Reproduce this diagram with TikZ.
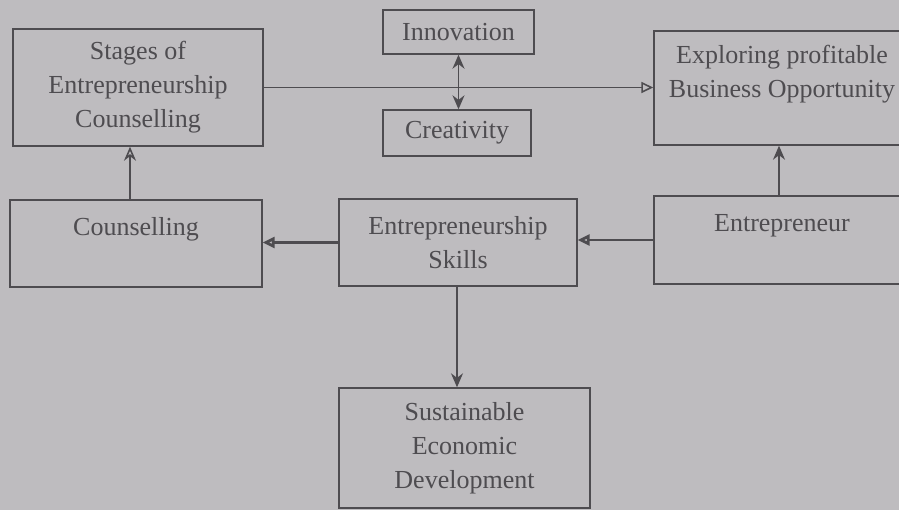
\documentclass[tikz,border=0pt]{standalone}
\usepackage{fontspec}
\setmainfont{Liberation Serif}
\usetikzlibrary{arrows.meta}

\definecolor{paper}{RGB}{190,188,191}
\definecolor{ink}{RGB}{78,76,80}

\tikzset{
    box/.style={draw=ink, text=ink, line width=0.7pt, rectangle, align=center, inner sep=0pt,
        font=\fontsize{13}{17}\selectfont},
    link/.style={draw=ink, line width=0.8pt},
    openhead/.style={-{Triangle[open, length=6pt, width=5.5pt]}},
    fullhead/.style={-{Stealth[length=7pt, width=6pt]}}
}

\begin{document}
\begin{tikzpicture}[x=0.5pt, y=-0.5pt]
        \fill[paper] (0,0) rectangle (899,510);
        \useasboundingbox (0,0) rectangle (899,510);

        \node[box, minimum width=125pt, minimum height=58.5pt] (stages) at (138,87.5) {Stages of\\Entrepreneurship\\Counselling};
        \node[box, minimum width=75.5pt, minimum height=22pt] (innov) at (458.5,32) {Innovation};
        \node[box, minimum width=74pt, minimum height=23pt] (creat) at (457,133) {Creativity};
        \node[box, minimum width=128pt, minimum height=57pt] (explore) at (782,88) {Exploring profitable\\Business Opportunity\\~};   % runs off the page
        \node[box, minimum width=126pt, minimum height=43.5pt] (couns) at (136,243.5) {Counselling\\~};
        \node[box, minimum width=119pt, minimum height=43.5pt] (skills) at (458,242.5) {Entrepreneurship\\Skills};
        \node[box, minimum width=128pt, minimum height=44pt] (entre) at (782,240) {Entrepreneur\\~};   % runs off the page
        \node[box, minimum width=125.5pt, minimum height=60pt] (sust) at (464.5,448) {Sustainable\\Economic\\Development};

        \draw[link, openhead] (stages.east) -- (stages.east -| explore.west);
        \draw[link, {Stealth[length=7pt, width=6pt]}-{Stealth[length=7pt, width=6pt]}] (innov.south) -- (creat.north -| innov.south);
        \draw[link, -{Stealth[open, length=7pt, width=6pt]}] ([xshift=-3pt]couns.north) -- ([xshift=-3pt]couns.north |- stages.south);
        \draw[link, line width=1.4pt, openhead] (skills.west) -- (skills.west -| couns.east);
        \draw[link, line width=1.4pt, openhead] (entre.west) -- (entre.west -| skills.east);
        \draw[link, fullhead] ([xshift=-1.5pt]entre.north) -- ([xshift=-1.5pt]entre.north |- explore.south);
        \draw[link, fullhead] ([xshift=-0.5pt]skills.south) -- ([xshift=-0.5pt]skills.south |- sust.north);

\end{tikzpicture}
\end{document}
